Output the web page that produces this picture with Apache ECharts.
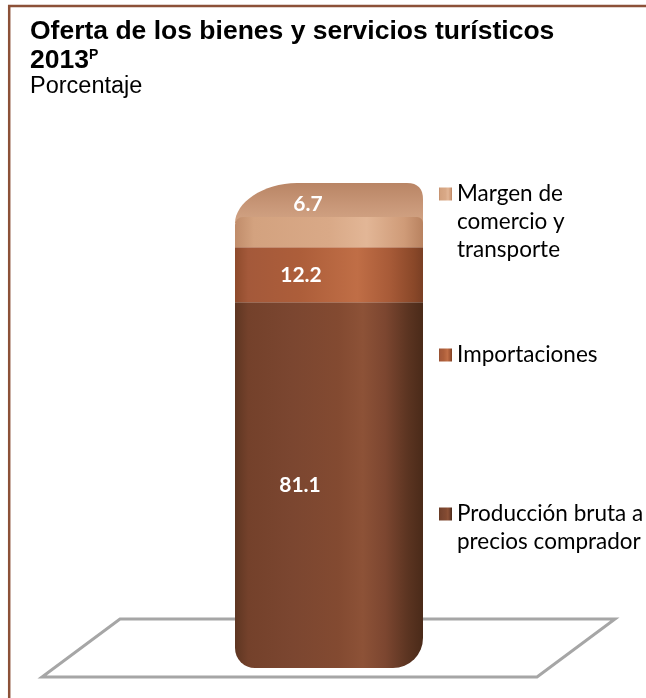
<!DOCTYPE html>
<html>
<head>
<meta charset="utf-8">
<script src="https://cdn.jsdelivr.net/npm/echarts@6/dist/echarts.min.js"></script>
<style>
html,body{margin:0;padding:0;background:#fff;}
#chart{width:646px;height:698px;}
</style>
</head>
<body>
<div id="chart"></div>
<script>
const categories = ['2013'];
const seriesNames = ['Producción bruta a precios comprador', 'Importaciones', 'Margen de comercio y transporte'];
const legendLabels = ['Producción bruta a\nprecios comprador', 'Importaciones', 'Margen de\ncomercio y\ntransporte'];
const produccion = [81.1];
const importaciones = [12.2];
const margen = [6.7];

function grad(stops, vertical) {
  return new echarts.graphic.LinearGradient(0, 0, vertical ? 0 : 1, vertical ? 1 : 0,
    stops.map(s => ({offset: s[0], color: s[1]})));
}
const fills = [
  grad([[0,'#5e3622'],[0.07,'#74412b'],[0.3,'#7b4630'],[0.55,'#834a31'],[0.68,'#8d5237'],[0.8,'#7c4630'],[0.92,'#5b3421'],[1,'#4a2a19']]),
  grad([[0,'#8e4b2c'],[0.07,'#a4593a'],[0.35,'#ad5e3a'],[0.65,'#c06e46'],[0.82,'#a85b38'],[0.95,'#8a4829'],[1,'#7a3f24']]),
  grad([[0,'#c08c6a'],[0.1,'#d3a27f'],[0.5,'#d9a987'],[0.7,'#e2b696'],[0.9,'#cf9b78'],[1,'#b88260']])
];
const capFill = grad([[0,'#b98565'],[0.6,'#c99879'],[1,'#d2a484']], true);
const values = [produccion, importaciones, margen];
const labelOffsets = [[-29, 0], [-28, 1], [-21, -28]];
const radii = [[0, 0, 30, 20], [0, 0, 0, 0], [8, 6, 0, 0]];

const chart = echarts.init(document.getElementById('chart'), null, {renderer: 'canvas'});

const labelFont = {show: true, position: 'inside', color: '#fff', fontFamily: 'Lato', fontWeight: 'bold', fontSize: 21};

const series = seriesNames.map((name, i) => ({
  name: name,
  type: 'bar',
  stack: 'total',
  barWidth: 188,
  clip: false,
  z: 3,
  data: values[i],
  itemStyle: {color: fills[i], borderRadius: radii[i]},
  label: Object.assign({}, labelFont, {offset: labelOffsets[i], formatter: p => p.value.toFixed(1)}),
  emphasis: {disabled: true}
}));

// top face of the column, placed at the stacked total
const totals = categories.map((c, j) => [j, produccion[j] + importaciones[j] + margen[j]]);
series.push({
  name: 'cap',
  type: 'custom',
  z: 2,
  silent: true,
  clip: false,
  data: totals,
  renderItem: function (params, api) {
    const p = api.coord([api.value(0), api.value(1)]);
    const w = 188;
    const x0 = p[0] - w / 2, x1 = p[0] + w / 2, y = p[1], d = 34;
    const path = `M${x0},${y + 6} C${x0},${y - 14} ${x0 + 28},${y - d} ${x0 + 62},${y - d} ` +
      `L${x1 - 16},${y - d} C${x1 - 5},${y - d} ${x1},${y - d + 6} ${x1},${y - d + 16} L${x1},${y + 6} Z`;
    return {type: 'path', shape: {pathData: path}, style: {fill: capFill}};
  }
});

function makeLegend(idx, top) {
  const lines = legendLabels[idx].split('\n').length;
  return {
    data: [seriesNames[idx]],
    left: 439,
    top: top,
    padding: 0,
    orient: 'vertical',
    icon: 'rect',
    itemWidth: 13,
    itemHeight: 13,
    selectedMode: false,
    formatter: () => '\n'.repeat(lines - 1) + legendLabels[idx],
    textStyle: {fontFamily: 'Lato', fontSize: 22.5, lineHeight: 28, color: '#000'}
  };
}

const option = {
  animation: false,
  backgroundColor: '#fff',
  title: {
    text: 'Oferta de los bienes y servicios turísticos\n2013{p|P}',
    subtext: 'Porcentaje',
    left: 30,
    top: 17,
    padding: 0,
    itemGap: 0,
    textStyle: {
      fontFamily: 'Liberation Sans', fontSize: 26.5, fontWeight: 'bold', color: '#000', lineHeight: 29,
      rich: {p: {fontFamily: 'Liberation Sans', fontSize: 14, fontWeight: 'bold', color: '#000', lineHeight: 29, padding: [0, 0, 11, 0]}}
    },
    subtextStyle: {fontFamily: 'Liberation Sans', fontSize: 23.5, color: '#000', lineHeight: 24}
  },
  legend: [
    makeLegend(2, 124),
    makeLegend(1, 341),
    makeLegend(0, 472)
  ],
  grid: {left: 235, right: 223, top: 217, bottom: 30, containLabel: false},
  xAxis: {type: 'category', data: categories, show: false},
  yAxis: {type: 'value', min: 0, max: 100, show: false},
  graphic: [
    {type: 'polygon', z: 0, silent: true,
     shape: {points: [[120, 619], [615, 619], [537, 677], [42, 677]]},
     style: {fill: '#fff', stroke: '#a6a6a6', lineWidth: 3}},
    {type: 'line', z: 0, silent: true, shape: {x1: 8, y1: 6, x2: 646, y2: 6}, style: {stroke: '#8c5138', lineWidth: 2.5}},
    {type: 'line', z: 0, silent: true, shape: {x1: 9.2, y1: 5, x2: 9.2, y2: 698}, style: {stroke: '#8c5138', lineWidth: 2.5}}
  ],
  series: series
};
chart.setOption(option);
</script>
</body>
</html>
